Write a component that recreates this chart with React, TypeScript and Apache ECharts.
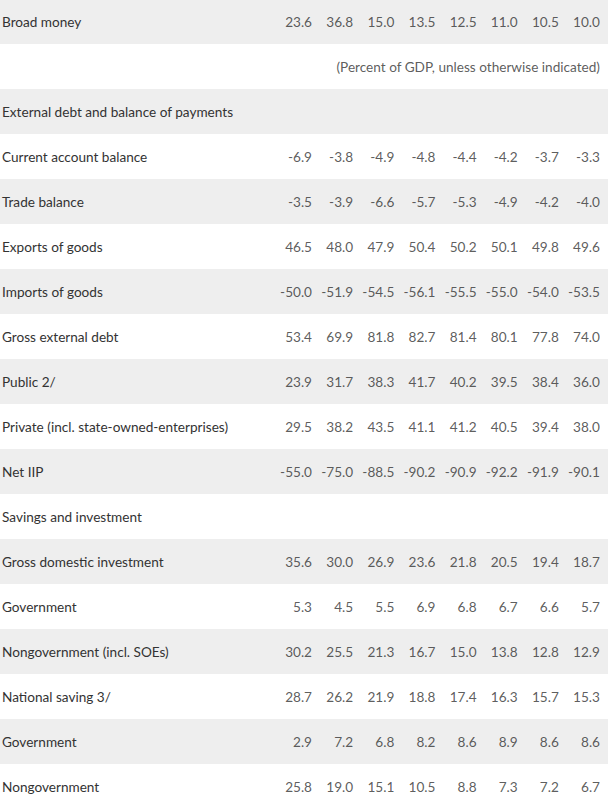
import React, { useEffect, useRef } from "react";
import * as echarts from "echarts";

const rowLabels = [
  "Broad money",
  "",
  "External debt and balance of payments",
  "Current account balance",
  "Trade balance",
  "Exports of goods",
  "Imports of goods",
  "Gross external debt",
  "Public 2/",
  "Private (incl. state-owned-enterprises)",
  "Net IIP",
  "Savings and investment",
  "Gross domestic investment",
  "Government",
  "Nongovernment (incl. SOEs)",
  "National saving 3/",
  "Government",
  "Nongovernment",
];

const noteText = "(Percent of GDP, unless otherwise indicated)";
const noteRow = 1;

// values per row index (header rows have none)
const broadMoney = [23.6, 36.8, 15.0, 13.5, 12.5, 11.0, 10.5, 10.0];
const currentAccount = [-6.9, -3.8, -4.9, -4.8, -4.4, -4.2, -3.7, -3.3];
const tradeBalance = [-3.5, -3.9, -6.6, -5.7, -5.3, -4.9, -4.2, -4.0];
const exportsGoods = [46.5, 48.0, 47.9, 50.4, 50.2, 50.1, 49.8, 49.6];
const importsGoods = [-50.0, -51.9, -54.5, -56.1, -55.5, -55.0, -54.0, -53.5];
const grossExtDebt = [53.4, 69.9, 81.8, 82.7, 81.4, 80.1, 77.8, 74.0];
const publicDebt = [23.9, 31.7, 38.3, 41.7, 40.2, 39.5, 38.4, 36.0];
const privateDebt = [29.5, 38.2, 43.5, 41.1, 41.2, 40.5, 39.4, 38.0];
const netIIP = [-55.0, -75.0, -88.5, -90.2, -90.9, -92.2, -91.9, -90.1];
const grossDomInv = [35.6, 30.0, 26.9, 23.6, 21.8, 20.5, 19.4, 18.7];
const govInv = [5.3, 4.5, 5.5, 6.9, 6.8, 6.7, 6.6, 5.7];
const nonGovInv = [30.2, 25.5, 21.3, 16.7, 15.0, 13.8, 12.8, 12.9];
const nationalSaving = [28.7, 26.2, 21.9, 18.8, 17.4, 16.3, 15.7, 15.3];
const govSaving = [2.9, 7.2, 6.8, 8.2, 8.6, 8.9, 8.6, 8.6];
const nonGovSaving = [25.8, 19.0, 15.1, 10.5, 8.8, 7.3, 7.2, 6.7];

const rowValues: (number[] | null)[] = [
  broadMoney,
  null,
  null,
  currentAccount,
  tradeBalance,
  exportsGoods,
  importsGoods,
  grossExtDebt,
  publicDebt,
  privateDebt,
  netIIP,
  null,
  grossDomInv,
  govInv,
  nonGovInv,
  nationalSaving,
  govSaving,
  nonGovSaving,
];

const FONT = "Lato";
const TEXT = "#333333";
const SIZE = 13.6;

export default function App() {
  const ref = useRef<HTMLDivElement>(null);
  useEffect(() => {
    document.body.style.margin = "0";
    if (!ref.current) return;
    const chart = echarts.init(ref.current, null, { renderer: "svg" });
    const cells: [number, number, number][] = [];
    rowValues.forEach((vals, r) => {
      if (!vals) return;
      vals.forEach((v, c) => cells.push([c, r, v]));
    });
    chart.setOption({
      animation: false,
      grid: {
        left: 0,
        top: -1,
        width: 608,
        height: 810,
        outerBoundsMode: "none",
        containLabel: false,
      },
      xAxis: {
        type: "value",
        min: -7.584,
        max: 7.195,
        show: false,
      },
      yAxis: {
        type: "category",
        inverse: true,
        data: rowLabels,
        axisLine: { show: false },
        axisTick: { show: false },
        splitLine: { show: false },
        splitArea: {
          show: true,
          areaStyle: { color: ["#eeeeee", "#ffffff"] },
        },
        axisLabel: {
          inside: true,
          margin: 2,
          color: TEXT,
          fontFamily: FONT,
          fontSize: SIZE,
        },
      },
      series: [
        {
          type: "scatter",
          symbolSize: 0,
          data: cells,
          label: {
            show: true,
            position: "left",
            distance: 0,
            color: TEXT,
            fontFamily: FONT,
            fontSize: SIZE,
            formatter: (p: any) => Number(p.value[2]).toFixed(1),
          },
        },
        {
          type: "scatter",
          symbolSize: 0,
          data: [[7, noteRow]],
          label: {
            show: true,
            position: "left",
            distance: 0,
            color: TEXT,
            fontFamily: FONT,
            fontSize: SIZE,
            formatter: () => noteText,
          },
        },
      ],
    });
    return () => chart.dispose();
  }, []);
  return <div ref={ref} style={{ width: 610, height: 805 }} />;
}
